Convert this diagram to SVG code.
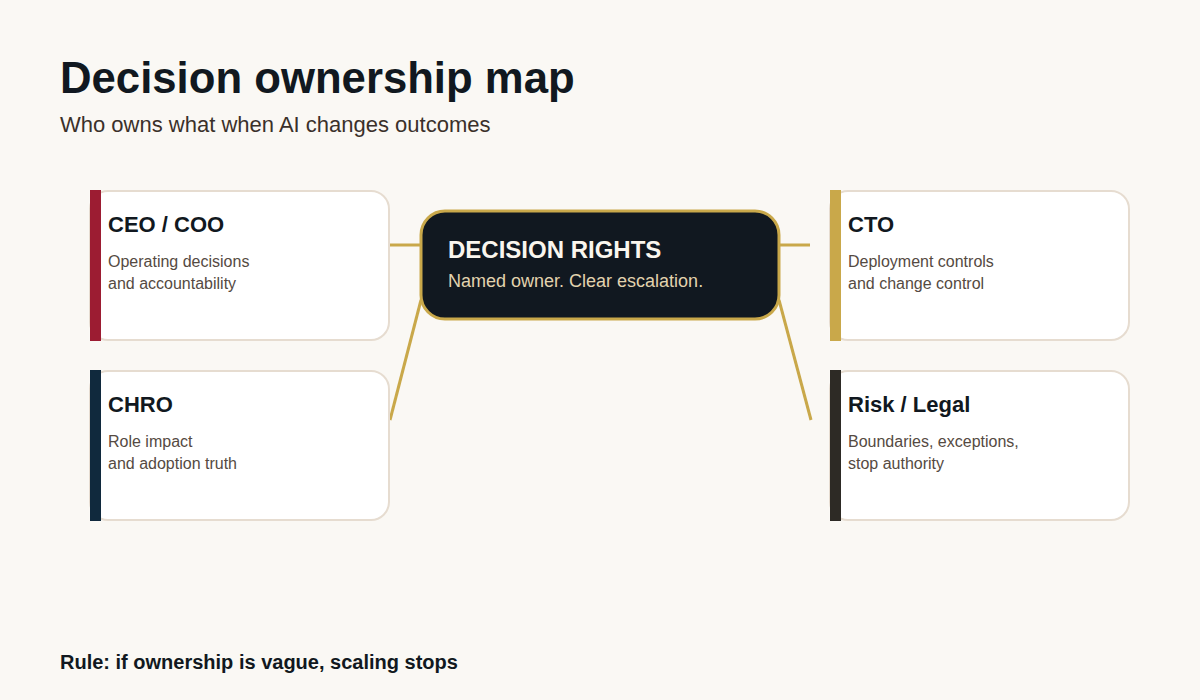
<svg xmlns="http://www.w3.org/2000/svg" width="1200" height="700" viewBox="0 0 1200 700">
<style>
text{font-family:"Liberation Sans",Arial,sans-serif}
.card{fill:#ffffff;stroke:#e6dcd0;stroke-width:2}
.ct{font-size:22px;font-weight:bold;fill:#111820}
.cd{font-size:16px;fill:#554a42}
.conn{stroke:#c9a84a;stroke-width:3;fill:none}
</style>
<rect width="1200" height="700" fill="#faf8f4"/>
<text x="60" y="93" font-size="43.7" font-weight="bold" fill="#111820">Decision ownership map</text>
<text x="60" y="132" font-size="22" fill="#3a302a">Who owns what when AI changes outcomes</text>
<g id="connectors">
<line class="conn" x1="390" y1="245" x2="421" y2="245"/>
<line class="conn" x1="779" y1="245" x2="810" y2="245"/>
<line class="conn" x1="421" y1="300" x2="390" y2="420"/>
<line class="conn" x1="779" y1="300" x2="811" y2="420"/>
</g>
<g id="ceo">
<rect class="card" x="90" y="191" width="299" height="149" rx="18"/>
<rect x="90" y="190" width="11" height="151" fill="#9c1c32"/>
<text class="ct" x="108" y="232">CEO / COO</text>
<text class="cd" x="108" y="267">Operating decisions</text>
<text class="cd" x="108" y="289">and accountability</text>
</g>
<g id="chro">
<rect class="card" x="90" y="371" width="299" height="149" rx="18"/>
<rect x="90" y="370" width="11" height="151" fill="#10293d"/>
<text class="ct" x="108" y="412">CHRO</text>
<text class="cd" x="108" y="447">Role impact</text>
<text class="cd" x="108" y="469">and adoption truth</text>
</g>
<g id="cto">
<rect class="card" x="830" y="191" width="299" height="149" rx="18"/>
<rect x="830" y="190" width="11" height="151" fill="#c9a84a"/>
<text class="ct" x="848" y="232">CTO</text>
<text class="cd" x="848" y="267">Deployment controls</text>
<text class="cd" x="848" y="289">and change control</text>
</g>
<g id="risk">
<rect class="card" x="830" y="371" width="299" height="149" rx="18"/>
<rect x="830" y="370" width="11" height="151" fill="#2d2a25"/>
<text class="ct" x="848" y="412">Risk / Legal</text>
<text class="cd" x="848" y="447">Boundaries, exceptions,</text>
<text class="cd" x="848" y="469">stop authority</text>
</g>
<g id="decision-rights">
<rect x="421" y="211" width="358" height="108" rx="24" fill="#111820" stroke="#c9a84a" stroke-width="3"/>
<text x="448" y="258" font-size="24" font-weight="bold" fill="#faf6ee">DECISION RIGHTS</text>
<text x="448" y="287" font-size="18" fill="#e2d3ae">Named owner. Clear escalation.</text>
</g>
<text x="60" y="669" font-size="20" font-weight="bold" fill="#111820">Rule: if ownership is vague, scaling stops</text>
</svg>
